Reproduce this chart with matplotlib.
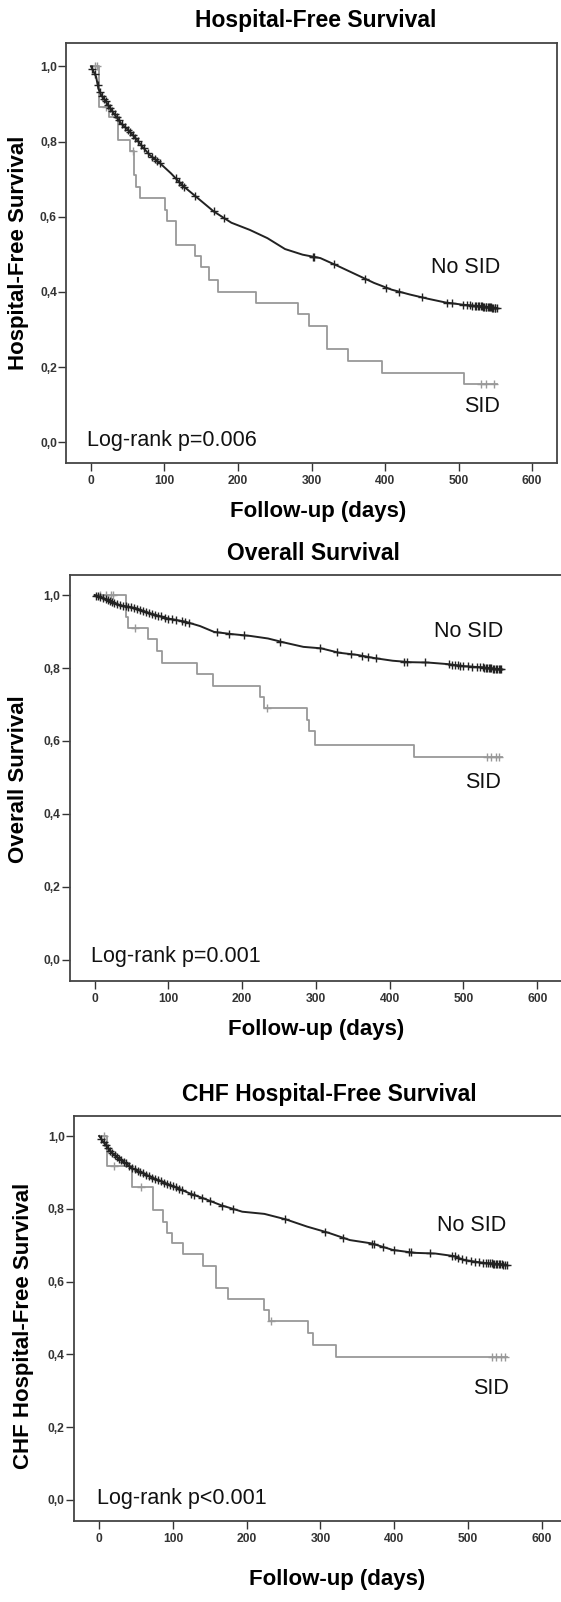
import matplotlib
matplotlib.use("Agg")
import matplotlib.pyplot as plt
import numpy as np

plt.rcParams['font.family'] = ['Liberation Sans', 'DejaVu Sans']

# ---- panel 1: Hospital-free survival ----
hf_nosid_t = [0, 7, 10, 14, 22, 31, 41, 51, 61, 70, 80, 94, 109, 124, 140, 167, 191, 216, 240,
              264, 288, 312, 337, 361, 385, 409, 434, 458, 482, 506, 530, 552]
hf_nosid_s = [1.0, 0.972, 0.941, 0.923, 0.901, 0.875, 0.848, 0.830, 0.808, 0.786, 0.764, 0.742,
              0.715, 0.684, 0.658, 0.614, 0.584, 0.565, 0.543, 0.514, 0.499, 0.490, 0.468, 0.446,
              0.424, 0.406, 0.393, 0.382, 0.372, 0.366, 0.362, 0.357]
hf_nosid_cens = [2, 5, 9, 12, 15, 18, 20, 23, 26, 29, 32, 35, 38, 42, 46, 50, 53, 57, 60, 64, 68,
                 72, 78, 83, 87, 90, 94, 115, 120, 124, 127, 141, 167, 181, 302, 304, 330, 373,
                 402, 419, 450, 484, 491, 506, 512, 516, 519, 522, 524, 526, 528, 530, 532, 534,
                 535, 537, 538, 540, 541, 543, 544, 546, 547, 549, 550, 552]
hf_sid_t = [0, 11, 24, 37, 53, 58, 61, 66, 101, 104, 116, 142, 150, 160, 173, 224, 282, 296,
            321, 350, 396, 508, 552]
hf_sid_s = [1.0, 0.892, 0.866, 0.803, 0.775, 0.712, 0.680, 0.650, 0.618, 0.588, 0.525, 0.496,
            0.466, 0.433, 0.401, 0.371, 0.341, 0.309, 0.247, 0.217, 0.185, 0.154, 0.154]
hf_sid_cens = [5, 8, 20, 57, 530, 538, 548]

# ---- panel 2: Overall survival ----
os_nosid_t = [0, 12, 32, 56, 75, 99, 123, 143, 162, 186, 211, 235, 259, 283, 307, 331, 356,
              380, 404, 428, 452, 477, 501, 525, 552]
os_nosid_s = [1.0, 0.991, 0.973, 0.964, 0.950, 0.936, 0.927, 0.915, 0.899, 0.893, 0.888, 0.881,
              0.869, 0.858, 0.854, 0.842, 0.836, 0.827, 0.820, 0.816, 0.815, 0.811, 0.805, 0.802,
              0.796]
os_nosid_cens = [2, 5, 8, 12, 15, 18, 21, 24, 27, 30, 34, 38, 42, 46, 50, 54, 58, 62, 66, 70, 74,
                 78, 82, 86, 90, 95, 100, 105, 110, 118, 122, 128, 166, 182, 203, 252, 305, 329,
                 348, 362, 370, 382, 420, 423, 448, 480, 484, 488, 492, 496, 500, 506, 512, 518,
                 522, 526, 528, 530, 532, 534, 536, 538, 540, 542, 544, 546, 548, 550, 551]
os_sid_t = [0, 42, 45, 73, 85, 92, 139, 161, 224, 230, 288, 290, 299, 433, 552]
os_sid_s = [1.0, 0.941, 0.910, 0.879, 0.847, 0.815, 0.784, 0.752, 0.721, 0.690, 0.658, 0.626,
            0.589, 0.557, 0.557]
os_sid_cens = [8, 15, 22, 25, 55, 234, 532, 538, 544, 548]

# ---- panel 3: CHF hospital-free survival ----
chf_nosid_t = [0, 11, 20, 30, 45, 59, 74, 93, 107, 122, 141, 165, 194, 224, 253, 282, 311,
               340, 369, 398, 427, 456, 481, 495, 519, 553]
chf_nosid_s = [1.0, 0.969, 0.948, 0.934, 0.911, 0.898, 0.884, 0.868, 0.856, 0.843, 0.829, 0.810,
               0.792, 0.786, 0.771, 0.751, 0.734, 0.714, 0.705, 0.687, 0.679, 0.677, 0.670, 0.659,
               0.652, 0.646]
chf_nosid_cens = [3, 6, 9, 12, 15, 18, 21, 24, 27, 30, 33, 36, 40, 44, 48, 52, 56, 60, 64, 68,
                  72, 76, 80, 84, 88, 92, 96, 100, 104, 108, 112, 125, 128, 140, 150, 167, 181,
                  252, 306, 331, 370, 372, 385, 400, 420, 423, 448, 478, 482, 486, 492, 498,
                  504, 510, 515, 520, 524, 527, 530, 532, 534, 536, 538, 540, 542, 544, 546,
                  548, 550, 553]
chf_sid_t = [0, 11, 45, 73, 86, 92, 99, 114, 141, 159, 174, 224, 230, 283, 290, 321, 553]
chf_sid_s = [1.0, 0.918, 0.861, 0.797, 0.765, 0.734, 0.705, 0.676, 0.644, 0.582, 0.551, 0.522,
             0.492, 0.458, 0.426, 0.394, 0.394]
chf_sid_cens = [6, 20, 57, 233, 532, 538, 545, 550]

titles = ['Hospital-Free Survival', 'Overall Survival', 'CHF Hospital-Free Survival']
ylabels = ['Hospital-Free Survival', 'Overall Survival', 'CHF Hospital-Free Survival']
pvals = ['Log-rank p=0.006', 'Log-rank p=0.001', 'Log-rank p<0.001']

W, H = 561, 1602
fig = plt.figure(figsize=(W / 100, H / 100), dpi=100)


def px_rect(l, t, r, b):
    return [l / W, 1 - b / H, (r - l) / W, (b - t) / H]


def step_at(times, surv, x):
    idx = np.searchsorted(times, x, side='right') - 1
    return np.asarray(surv)[idx]


# axes boxes in pixels (left, top, right, bottom) and data limits
boxes = [(66, 43, 557, 463), (69.6, 575, 566, 981), (73.9, 1116, 566, 1521)]
xlims = [(-34, 634), (-33.8, 639), (-34.3, 633)]
ylims = [(-0.055, 1.062), (-0.058, 1.055), (-0.058, 1.055)]
title_pos = [(316, 21), (313, 553), (329, 1095)]
xlab_pos = [(318, 511), (316, 1029), (337, 1580)]
ylab_pos = [(19, 253), (18, 779), (24, 1326)]
nosid_txt = [(557, 0.464), (554, 0.901), (552, 0.755)]
sid_txt = [(557, 0.095), (551, 0.486), (556, 0.307)]
p_txt = [(-5, 0.006), (-5, 0.009), (-3, 0.005)]

curves = [
    (hf_nosid_t, hf_nosid_s, hf_nosid_cens, hf_sid_t, hf_sid_s, hf_sid_cens),
    (os_nosid_t, os_nosid_s, os_nosid_cens, os_sid_t, os_sid_s, os_sid_cens),
    (chf_nosid_t, chf_nosid_s, chf_nosid_cens, chf_sid_t, chf_sid_s, chf_sid_cens),
]

dark = '#222222'
light = '#999999'

for i in range(3):
    nt, ns, nc, st, ss, sc = curves[i]
    ax = fig.add_axes(px_rect(*boxes[i]))
    ax.plot(st, ss, drawstyle='steps-post', color=light, lw=1.3)
    ax.plot(sc, step_at(st, ss, sc), ls='none', marker='+', color=light, ms=5.5, mew=1.0)
    ax.plot(nt, ns, color=dark, lw=1.4)
    ax.plot(nc, np.interp(nc, nt, ns), ls='none', marker='+', color=dark, ms=5.5, mew=1.0)

    ax.set_xlim(*xlims[i])
    ax.set_ylim(*ylims[i])
    ax.set_xticks(range(0, 700, 100))
    ax.set_yticks([0, 0.2, 0.4, 0.6, 0.8, 1.0])
    ax.set_yticklabels(['0,0', '0,2', '0,4', '0,6', '0,8', '1,0'])
    ax.tick_params(labelsize=8.7, colors='#333333', length=6, width=1.0)
    ax.tick_params(axis='y', pad=0.5)
    ax.tick_params(axis='x', pad=2.5)
    for lab in ax.get_xticklabels() + ax.get_yticklabels():
        lab.set_fontweight('bold')
    for sp in ax.spines.values():
        sp.set_color('#444444')
        sp.set_linewidth(1.3)

    ax.text(*nosid_txt[i], 'No SID', ha='right', va='center', fontsize=15.5, color='#111111')
    ax.text(*sid_txt[i], 'SID', ha='right', va='center', fontsize=15.5, color='#111111')
    ax.text(*p_txt[i], pvals[i], ha='left', va='center', fontsize=15.5, color='#111111')

    fig.text(title_pos[i][0] / W, 1 - title_pos[i][1] / H, titles[i], ha='center', va='center',
             fontsize=16.5, fontweight='bold')
    fig.text(xlab_pos[i][0] / W, 1 - xlab_pos[i][1] / H, 'Follow-up (days)', ha='center',
             va='center', fontsize=16, fontweight='bold')
    fig.text(ylab_pos[i][0] / W, 1 - ylab_pos[i][1] / H, ylabels[i], ha='center', va='center',
             rotation=90, fontsize=16, fontweight='bold')

fig.savefig('out.png', dpi=100)
